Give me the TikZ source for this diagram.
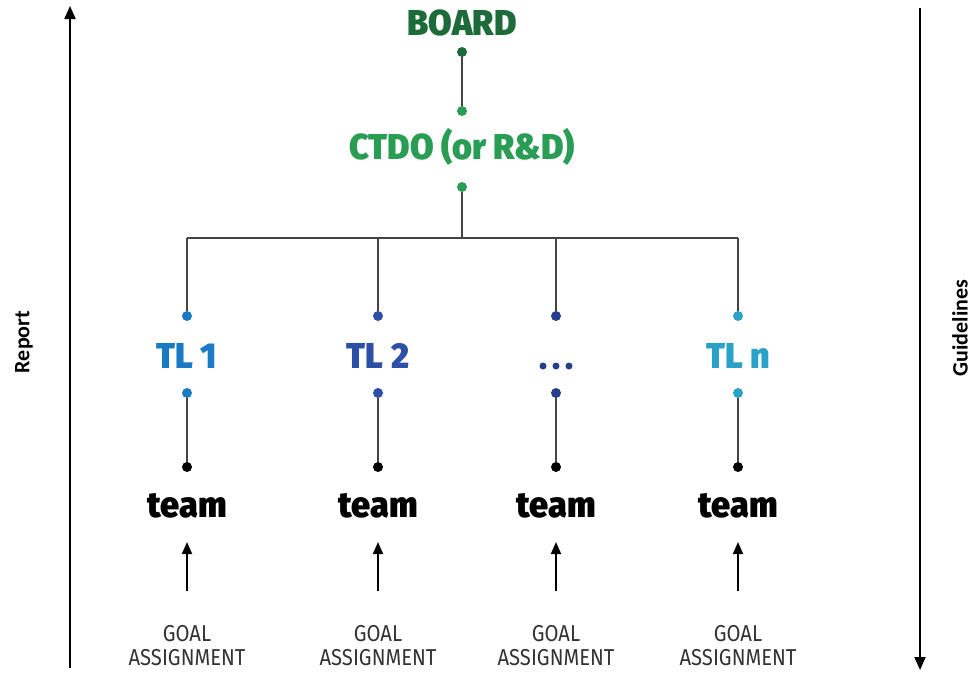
\documentclass[tikz,border=0pt]{standalone}
\usepackage{fontspec}
\setmainfont{Fira Sans}
\newfontfamily\heavy{Fira Sans Black}
\newfontfamily\side{Carlito}
\usetikzlibrary{arrows.meta}
\definecolor{boardgreen}{HTML}{1E6B3A}
\definecolor{ctdogreen}{HTML}{2A9D55}
\definecolor{tlone}{HTML}{1A7AC4}
\definecolor{tltwo}{HTML}{2E4FA6}
\definecolor{tldots}{HTML}{263F8C}
\definecolor{tln}{HTML}{2AA2C8}
\definecolor{linegray}{HTML}{444444}
\definecolor{goalgray}{HTML}{333333}
\tikzset{
  dot/.style={circle, fill=#1, inner sep=0pt, minimum size=10pt},
  link/.style={draw=linegray, line width=2pt},
  head/.style={inner sep=0pt, anchor=base, text=#1,
    font=\heavy\fontsize{36}{36}\selectfont},
  goal/.style={inner sep=0pt, anchor=base, text=goalgray,
    font=\fontsize{23}{23}\selectfont},
  sidelabel/.style={inner sep=0pt, font=\side\bfseries\fontsize{22}{22}\selectfont},
  flow/.style={draw=black, line width=2pt, -{Triangle[length=13pt,width=11pt]}},
  up/.style={draw=black, line width=1.8pt, -{Triangle[length=12pt,width=10pt]}}
}
\newcommand{\condensed}[1]{\scalebox{0.95}[1]{#1}}
\newcommand{\narrow}[1]{\scalebox{0.88}[1]{#1}}
\begin{document}
\begin{tikzpicture}[x=1pt, y=-1pt]
\useasboundingbox (0,0) rectangle (976,672);

% side arrows
\coordinate (reportlow) at (70,668);
\coordinate (reporthigh) at (70,6);
\draw[flow] (reportlow) -- (reporthigh);
\node[sidelabel, rotate=90] (report) at (24,342) {Report};
\coordinate (guidehigh) at (920,8);
\coordinate (guidelow) at (920,670);
\draw[flow] (guidehigh) -- (guidelow);
\node[sidelabel, rotate=90] (guide) at (960,328) {Guidelines};

% top of the hierarchy
\node[head=boardgreen] (board) at (462,35) {\condensed{BOARD}};
\node[dot=boardgreen] (boarddot) at (462,52) {};
\node[dot=ctdogreen] (ctdoin) at (462,111) {};
\node[head=ctdogreen] (ctdo) at (462,159) {\condensed{CTDO (or R\&D)}};
\node[dot=ctdogreen] (ctdoout) at (462,187) {};
\draw[link] (boarddot) -- (ctdoin);
\coordinate (bus) at (462,238);
\draw[link] (ctdoout) -- (bus);

% team leaders, teams and goals
\foreach \i/\x/\c in {1/187/tlone, 2/378/tltwo, 3/556/tldots, 4/738/tln} {
  \node[dot=\c] (tlin\i) at (\x,316) {};
  \node[dot=\c] (tlout\i) at (\x,393) {};
  \node[dot=black] (teamin\i) at (\x,467) {};
  \node[head=black] (team\i) at (\x,517) {\condensed{team}};
  \node[goal] (goal\i) at (\x,641) {\narrow{GOAL}};
  \node[goal] (assign\i) at (\x,665) {\narrow{ASSIGNMENT}};
  \coordinate (goaltop\i) at (\x,591);
  \coordinate (teamlow\i) at (\x,542);
  \draw[up] (goaltop\i) -- (teamlow\i);
  \draw[link] (tlout\i) -- (teamin\i);
  \draw[link] (tlin\i |- bus) -- (tlin\i);
}
\node[head=tlone] (tl1) at (187,368) {\condensed{TL 1}};
\node[head=tltwo] (tl2) at (378,368) {\condensed{TL 2}};
\node[head=tln] (tl4) at (738,368) {\condensed{TL n}};
\foreach \dx [count=\k] in {-13,0,13}
  \node[dot=tldots, minimum size=7pt] (ell\k) at (556+\dx,366) {};

\draw[link] (tlin1 |- bus) -- (tlin4 |- bus);
\end{tikzpicture}
\end{document}
